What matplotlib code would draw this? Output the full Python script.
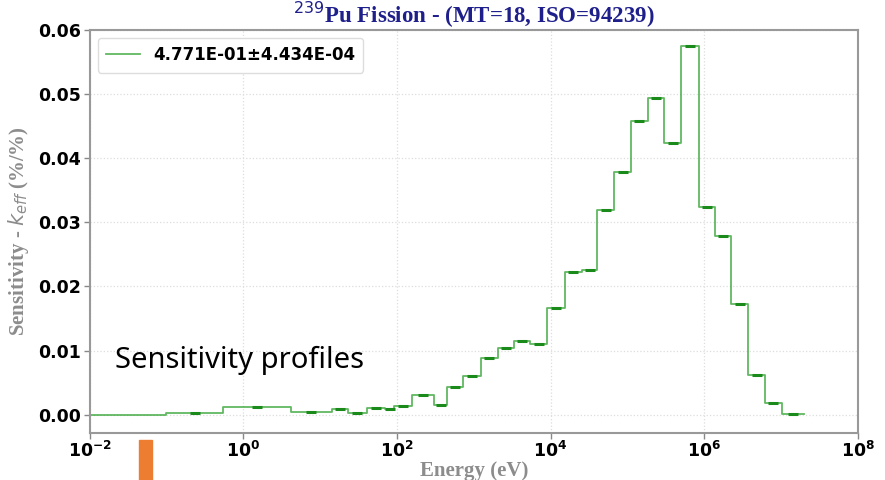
import numpy as np
import matplotlib
matplotlib.use("Agg")
import matplotlib.pyplot as plt
from matplotlib.patches import Rectangle

# ---------------------------------------------------------------------
# Data (group edges in eV, sensitivity per group)
# ---------------------------------------------------------------------
edges = [1e-5, 0.1, 0.55, 4.14, 14.2, 22.9, 40.4, 70, 92.5, 155.6, 307, 449,
         724, 1242, 2050, 3374, 5400, 9060, 15400, 25400, 40600, 67500,
         111000, 184000, 302000, 498000, 841000, 1.37e6, 2.23e6, 3.75e6,
         6.18e6, 1.02e7, 2.0e7]
sens = [0.0000, 0.0003, 0.0012, 0.0005, 0.0009, 0.0003, 0.0011, 0.0009,
        0.0014, 0.0031, 0.0015, 0.0044, 0.0061, 0.0088, 0.0104, 0.0115,
        0.0111, 0.0166, 0.0223, 0.0225, 0.0319, 0.0378, 0.0458, 0.0493,
        0.0424, 0.0575, 0.0324, 0.0279, 0.0173, 0.0062, 0.0018, 0.0001]

legend_label = "4.771E-01\u00b14.434E-04"
title = r"$^{\mathsf{239}}$Pu Fission - (MT=18, ISO=94239)"
xticks = [1e-2, 1e0, 1e2, 1e4, 1e6, 1e8]
yticks = [0.00, 0.01, 0.02, 0.03, 0.04, 0.05, 0.06]

plt.rcParams["mathtext.fontset"] = "dejavusans"
plt.rcParams["mathtext.default"] = "bf"

fig = plt.figure(figsize=(8.85, 4.8), dpi=100)
ax = fig.add_axes([0.1012, 0.098, 0.8683, 0.8405])

edges_a = np.array(edges)
sens_a = np.array(sens)

ax.plot(edges_a, np.append(sens_a, sens_a[-1]), drawstyle="steps-post",
        color="#2ca02c", alpha=0.75, lw=1.3, label=legend_label)

# small error marks at group centres
centres = np.sqrt(edges_a[:-1] * edges_a[1:])
ax.plot(centres, sens_a, linestyle="none", marker="_", markersize=7,
        mew=2.2, color="#1a8a1a")

ax.set_xscale("log")
ax.set_xlim(1e-2, 1e8)
ax.set_ylim(-0.0028, 0.06)
ax.set_xticks(xticks)
ax.set_yticks(yticks)
ax.minorticks_off()
ax.yaxis.set_major_formatter(matplotlib.ticker.FormatStrFormatter("%.2f"))

for lab in ax.get_xticklabels() + ax.get_yticklabels():
    lab.set_fontweight("bold")
    lab.set_fontsize(12.5)
ax.tick_params(axis="both", length=4, width=1, color="#888888", pad=2)

for sp in ax.spines.values():
    sp.set_color("#999999")
    sp.set_linewidth(1.5)

ax.grid(True, which="major", linestyle=":", color="#dddddd", lw=0.9)

ax.set_title(title, fontsize=16.5, fontweight="bold", color="#1f1f8c",
             family="Liberation Serif", pad=4)
ax.set_xlabel("Energy (eV)", fontsize=15, fontweight="bold", color="#8c8c8c",
              family="Liberation Serif", labelpad=0)
ax.set_ylabel(r"Sensitivity - $\mathit{k_{eff}}$ (%/%)", fontsize=15,
              fontweight="bold", color="#8c8c8c", family="Liberation Serif",
              labelpad=5)

leg = ax.legend(loc="upper left", prop={"weight": "bold", "size": 12},
                handlelength=2.0, borderpad=0.5, framealpha=1,
                edgecolor="#dddddd")

# slide overlay
fig.text(0.13, 0.233, "Sensitivity profiles", fontsize=21,
         family="Noto Sans", color="black")
fig.patches.append(Rectangle((139 / 885, 0), 13 / 885, 40 / 480,
                             transform=fig.transFigure, color="#ed7d31",
                             zorder=5))

fig.savefig("out.png", dpi=100)
